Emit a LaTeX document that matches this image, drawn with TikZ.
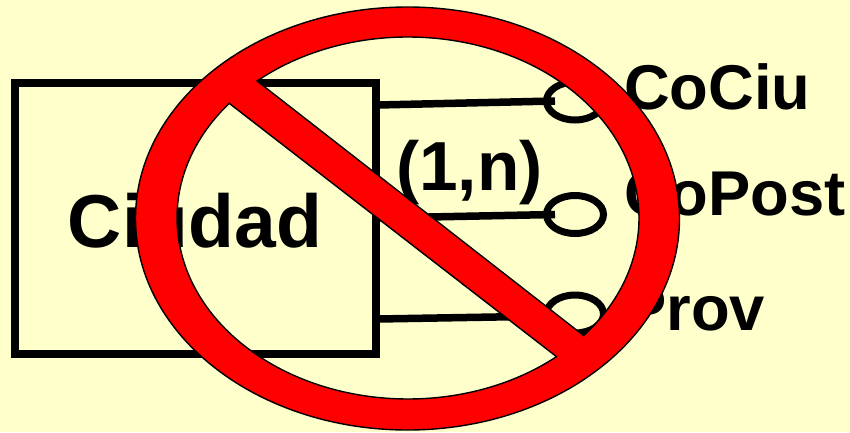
\documentclass[tikz,border=0pt]{standalone}
\usepackage{fontspec}
\setmainfont{Liberation Sans}
\usetikzlibrary{shapes.geometric}
\definecolor{bgc}{HTML}{FFFFCC}
\tikzset{
  entity/.style={draw=black,line width=8pt,minimum width=361pt,minimum height=271pt,inner sep=0pt},
  attr/.style={draw=black,line width=7pt,ellipse,minimum width=57pt,minimum height=38pt,inner sep=0pt},
  link/.style={draw=black,line width=7.5pt},
  lab/.style={inner sep=0pt,anchor=base west,font=\bfseries\fontsize{63.3}{70}\selectfont},
  sign/.style={fill=red,draw=black,line width=1.4pt,even odd rule,line join=miter}
}
\begin{document}
\begin{tikzpicture}[x=1pt,y=1pt]
\useasboundingbox (0,0) rectangle (850,432);
\fill[bgc] (0,0) rectangle (850,432);
% entity
\node[entity] (ciudad) at (195.5,213.5) {};
\node[inner sep=0pt,anchor=base,font=\bfseries\fontsize{75}{80}\selectfont] (ciudadt) at (195,185) {Ciudad};
% attributes
\node[attr] (a1) at (575,331) {};
\node[attr] (a2) at (575,217.5) {};
\node[attr] (a3) at (575,118) {};
\coordinate (s1) at (378,327);
\coordinate (s2) at (378,214);
\coordinate (s3) at (378,113);
\coordinate (e1) at (555,331);
\coordinate (e2) at (555,217.5);
\coordinate (e3) at (555,116);
\draw[link] (s1) -- (e1);
\draw[link] (s2) -- (e2);
\draw[link] (s3) -- (e3);
% labels
\node[lab] (cociu) at (624,323) {CoCiu};
\node[lab] (copost) at (624,217) {CoPost};
\node[lab] (prov) at (624,102) {Prov};
\node[inner sep=0pt,anchor=base west,font=\bfseries\fontsize{69.4}{74}\selectfont] (card) at (396,242) {(1,n)};
% prohibition sign
\path[sign]
  (407.5,213.5) ++(272,0) arc[start angle=0,end angle=360,x radius=272pt,y radius=211.5pt] -- cycle
  (408,214) ++(130.8:231pt and 181pt) arc[start angle=130.8,end angle=-40.5,x radius=231pt,y radius=181pt] -- cycle
  (408,214) ++(140.7:231pt and 181pt) arc[start angle=140.7,end angle=310,x radius=231pt,y radius=181pt] -- cycle;
\end{tikzpicture}
\end{document}
